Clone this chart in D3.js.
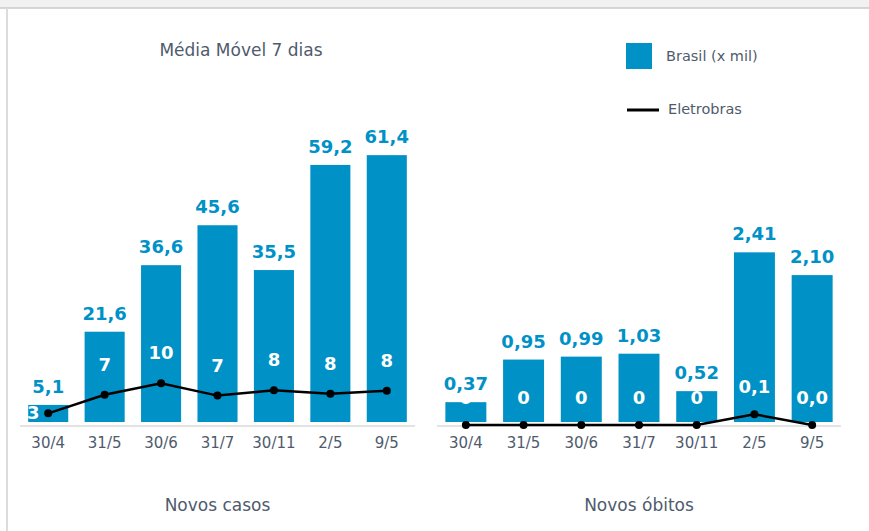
<!DOCTYPE html>
<html>
<head>
<meta charset="utf-8">
<script src="https://cdn.jsdelivr.net/npm/d3@7"></script>
<style>
  html, body { margin: 0; padding: 0; background: #fff; }
  svg { display: block; font-family: 'DejaVu Sans', Verdana, sans-serif; }
</style>
</head>
<body>
<div id="svg-container"></div>
<script>
(function () {
  'use strict'

  var categories = ['30/4', '31/5', '30/6', '31/7', '30/11', '2/5', '9/5']

  // Novos casos
  var casosBrasil = [5.1, 21.6, 36.6, 45.6, 35.5, 59.2, 61.4]
  var casosEletrobras = [3.2, 7.4, 10, 7.2, 8.4, 7.6, 8.3]

  // Novos obitos
  var obitosBrasil = [0.37, 0.95, 0.99, 1.03, 0.52, 2.41, 2.10]
  var obitosEletrobras = [0, 0, 0, 0, 0, 0.1, 0.0]
  var obitosEletrobrasLabels = ['0', '0', '0', '0', '0', '0,1', '0,0']

  var blue = '#0091c7'
  var textGray = '#4f5b6d'

  var dimensions = { w: 869, h: 531 }

  var svg = d3.select('#svg-container').append('svg')
    .attr('width', dimensions.w)
    .attr('height', dimensions.h)

  // Frame
  svg.append('rect').attr('x', 0).attr('y', 0)
    .attr('width', dimensions.w).attr('height', 8).attr('fill', '#f1f1f1')
  svg.append('line').attr('x1', 0).attr('x2', dimensions.w)
    .attr('y1', 8).attr('y2', 8).attr('stroke', '#c9c9c9').attr('stroke-width', 1.5)
  svg.append('line').attr('x1', 7).attr('x2', 7)
    .attr('y1', 8).attr('y2', dimensions.h).attr('stroke', '#dcdcdc').attr('stroke-width', 2)

  // Title
  svg.append('text').attr('x', 241).attr('y', 56)
    .attr('text-anchor', 'middle').attr('font-size', 17).attr('fill', textGray)
    .text('Média Móvel 7 dias')

  // Legend
  var legend = svg.append('g')
  legend.append('rect').attr('x', 626).attr('y', 43).attr('width', 26).attr('height', 26).attr('fill', blue)
  legend.append('text').attr('x', 666).attr('y', 61).attr('font-size', 14.5)
    .attr('fill', textGray).text('Brasil (x mil)')
  legend.append('line').attr('x1', 627).attr('x2', 659).attr('y1', 110).attr('y2', 110)
    .attr('stroke', '#000').attr('stroke-width', 3)
  legend.append('text').attr('x', 668).attr('y', 114).attr('font-size', 14.5)
    .attr('fill', textGray).text('Eletrobras')

  function panel (opts) {
    var g = svg.append('g')

    var x = d3.scaleBand().domain(categories)
      .range(opts.xRange).paddingInner(0.29).paddingOuter(0.145)
    var yBar = d3.scaleLinear().domain(opts.barDomain).range([422, opts.barTop])
    var yLine = opts.lineScale || yBar

    // baseline
    g.append('line')
      .attr('x1', opts.xRange[0]).attr('x2', opts.xRange[1])
      .attr('y1', 426).attr('y2', 426)
      .attr('stroke', '#dadada').attr('stroke-width', 1.5)

    // bars
    g.selectAll('.bar').data(opts.bars).enter().append('rect')
      .attr('class', 'bar')
      .attr('x', function (d, i) { return x(categories[i]) })
      .attr('y', function (d) { return yBar(d) })
      .attr('width', x.bandwidth())
      .attr('height', function (d) { return 422 - yBar(d) })
      .attr('fill', blue)

    // bar labels
    g.selectAll('.bar-label').data(opts.bars).enter().append('text')
      .attr('class', 'bar-label')
      .attr('x', function (d, i) { return x(categories[i]) + x.bandwidth() / 2 })
      .attr('y', function (d) { return yBar(d) - 12 })
      .attr('text-anchor', 'middle')
      .attr('font-size', 18).attr('font-weight', 'bold').attr('fill', blue)
      .text(function (d) { return opts.barFormat(d).replace('.', ',') })

    // x axis labels
    g.selectAll('.cat').data(categories).enter().append('text')
      .attr('class', 'cat')
      .attr('x', function (d) { return x(d) + x.bandwidth() / 2 })
      .attr('y', 448)
      .attr('text-anchor', 'middle').attr('font-size', 15).attr('fill', textGray)
      .text(function (d) { return d })

    // line
    var line = d3.line()
      .x(function (d, i) { return x(categories[i]) + x.bandwidth() / 2 })
      .y(function (d) { return yLine(d) })

    g.append('path').datum(opts.line)
      .attr('d', line).attr('fill', 'none')
      .attr('stroke', '#000').attr('stroke-width', 2.5)

    g.selectAll('.point').data(opts.line).enter().append('circle')
      .attr('class', 'point')
      .attr('cx', function (d, i) { return x(categories[i]) + x.bandwidth() / 2 })
      .attr('cy', function (d) { return yLine(d) })
      .attr('r', 4).attr('fill', '#000')

    // line labels (white, inside bars)
    var lift = opts.labelLift
    g.selectAll('.line-label').data(opts.line).enter().append('text')
      .attr('class', 'line-label')
      .attr('x', function (d, i) {
        var cx = x(categories[i]) + x.bandwidth() / 2
        return yLine(d) - lift < yBar(opts.bars[i]) - 10 ? cx - 15 : cx
      })
      .attr('y', function (d, i) {
        var py = yLine(d)
        return (py - lift < yBar(opts.bars[i]) - 10 ? py : py - lift) + 6
      })
      .attr('text-anchor', 'middle')
      .attr('font-size', 18).attr('font-weight', 'bold').attr('fill', '#fff')
      .text(function (d, i) { return opts.lineLabels[i] })

    // panel caption
    g.append('text')
      .attr('x', (opts.xRange[0] + opts.xRange[1]) / 2)
      .attr('y', 511)
      .attr('text-anchor', 'middle').attr('font-size', 17).attr('fill', textGray)
      .text(opts.caption)
  }

  panel({
    xRange: [20, 415],
    barDomain: [1.25, 70],
    barTop: 117,
    bars: casosBrasil,
    barFormat: d3.format('.1f'),
    line: casosEletrobras,
    lineLabels: casosEletrobras.map(d3.format('.0f')),
    labelLift: 30,
    caption: 'Novos casos'
  })

  panel({
    xRange: [437, 841],
    barDomain: [0.1, 3],
    barTop: 209,
    bars: obitosBrasil,
    barFormat: d3.format('.2f'),
    line: obitosEletrobras,
    lineScale: d3.scaleLinear().domain([0, 1]).range([425, 318]),
    lineLabels: obitosEletrobrasLabels,
    labelLift: 27,
    caption: 'Novos óbitos'
  })
}())
</script>
</body>
</html>
